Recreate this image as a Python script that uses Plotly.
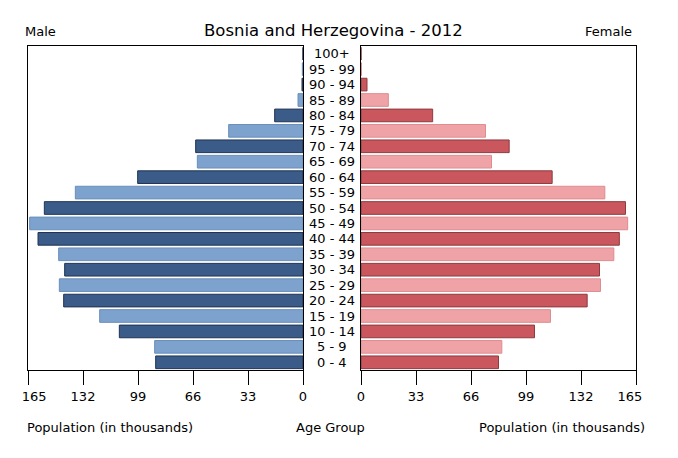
import plotly.graph_objects as go

age_groups = ["0 - 4", "5 - 9", "10 - 14", "15 - 19", "20 - 24", "25 - 29", "30 - 34",
              "35 - 39", "40 - 44", "45 - 49", "50 - 54", "55 - 59", "60 - 64", "65 - 69",
              "70 - 74", "75 - 79", "80 - 84", "85 - 89", "90 - 94", "95 - 99", "100+"]
male = [88.4, 89.0, 110.2, 122.0, 143.6, 146.2, 143.0, 146.6, 159.0, 164.0, 155.2,
        136.6, 99.2, 63.4, 64.4, 44.6, 17.0, 3.0, 0.6, 0.4, 0.0]
female = [82.5, 84.5, 104.1, 113.7, 135.7, 143.7, 143.1, 151.7, 155.0, 160.0, 158.7,
          146.3, 114.7, 78.3, 88.9, 74.7, 43.0, 16.4, 3.6, 0.3, 0.0]
tick_vals = [0, 33, 66, 99, 132, 165]

male_colors = ["#3b5b88" if i % 2 == 0 else "#7da2cd" for i in range(len(age_groups))]
male_lines = ["#1f3352" if i % 2 == 0 else "#6a8fb9" for i in range(len(age_groups))]
female_colors = ["#c9575d" if i % 2 == 0 else "#f0a3a6" for i in range(len(age_groups))]
female_lines = ["#8e3a3f" if i % 2 == 0 else "#dc8d90" for i in range(len(age_groups))]

W, H = 678, 458
TOP, BOT = 46, 370
NB = "\u00a0\u00a0\u00a0"


def py(y):
    # convert pixel y (from top of figure) to paper y
    return (BOT - y) / (BOT - TOP)


fig = go.Figure()
fig.add_trace(go.Bar(x=male, y=age_groups, orientation="h", xaxis="x", yaxis="y",
                     marker=dict(color=male_colors, line=dict(color=male_lines, width=1)),
                     width=0.82, showlegend=False, hoverinfo="x+y"))
fig.add_trace(go.Bar(x=female, y=age_groups, orientation="h", xaxis="x2", yaxis="y2",
                     marker=dict(color=female_colors, line=dict(color=female_lines, width=1)),
                     width=0.82, showlegend=False, hoverinfo="x+y"))

font = "DejaVu Sans"
left_text = [str(v) for v in tick_vals]
left_text[-1] = NB + left_text[-1]
right_text = [str(v) for v in tick_vals]
right_text[-1] = right_text[-1] + NB

axis_common = dict(showgrid=False, zeroline=False, showline=True, linecolor="black",
                   linewidth=1, mirror=True, ticks="outside", ticklen=14, tickcolor="black",
                   tickvals=tick_vals, automargin=False,
                   tickfont=dict(family=font, size=13, color="black"))
yaxis_common = dict(showticklabels=False, showgrid=False, showline=True, automargin=False,
                    linecolor="black", mirror=True, ticks="", categoryorder="array",
                    categoryarray=age_groups, range=[-0.5, 20.5])
fig.update_layout(
    width=W, height=H,
    margin=dict(l=0, r=0, t=TOP, b=H - BOT, pad=0, autoexpand=False),
    paper_bgcolor="white", plot_bgcolor="white",
    xaxis=dict(domain=[28 / W, 303 / W], range=[165, 0], anchor="y",
               ticktext=left_text, **axis_common),
    xaxis2=dict(domain=[361 / W, 636 / W], range=[0, 165], anchor="y2",
                ticktext=right_text, **axis_common),
    yaxis=dict(anchor="x", **yaxis_common),
    yaxis2=dict(anchor="x2", **yaxis_common),
)

annotations = []
for ag in age_groups:
    annotations.append(dict(x=332 / W, y=ag, xref="paper", yref="y", text=ag,
                            showarrow=False, xanchor="center", yanchor="middle",
                            font=dict(family=font, size=13, color="black")))
annotations += [
    dict(x=333 / W, y=py(30), xref="paper", yref="paper", text="Bosnia and Herzegovina - 2012",
         showarrow=False, xanchor="center", yanchor="middle",
         font=dict(family=font, size=16.5, color="black")),
    dict(x=23 / W, y=py(31), xref="paper", yref="paper", text="Male",
         showarrow=False, xanchor="left", yanchor="middle",
         font=dict(family=font, size=13, color="black")),
    dict(x=634 / W, y=py(31), xref="paper", yref="paper", text="Female",
         showarrow=False, xanchor="right", yanchor="middle",
         font=dict(family=font, size=13, color="black")),
    dict(x=109.5 / W, y=py(427), xref="paper", yref="paper", text="Population (in thousands)",
         showarrow=False, xanchor="center", yanchor="middle",
         font=dict(family=font, size=13, color="black")),
    dict(x=330 / W, y=py(427), xref="paper", yref="paper", text="Age Group",
         showarrow=False, xanchor="center", yanchor="middle",
         font=dict(family=font, size=13, color="black")),
    dict(x=562 / W, y=py(427), xref="paper", yref="paper", text="Population (in thousands)",
         showarrow=False, xanchor="center", yanchor="middle",
         font=dict(family=font, size=13, color="black")),
]
fig.update_layout(annotations=annotations)

fig.write_html("out.html")
